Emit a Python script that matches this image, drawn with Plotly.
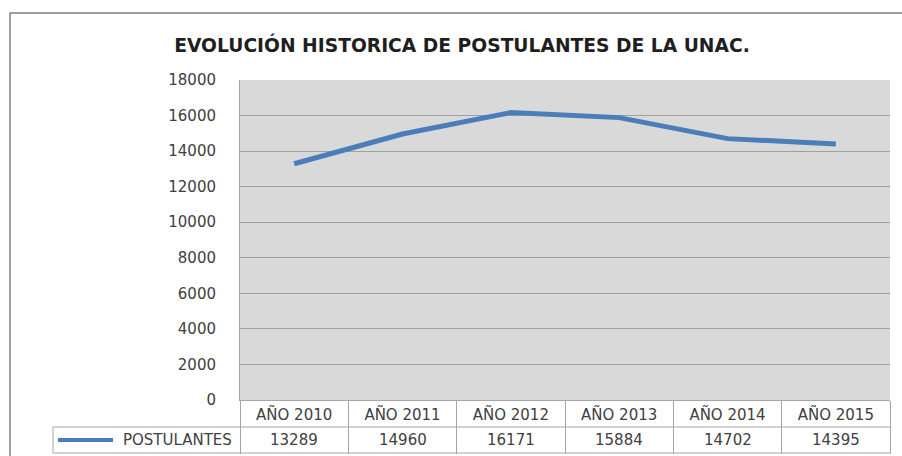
import plotly.graph_objects as go

categories = ["AÑO 2010", "AÑO 2011", "AÑO 2012", "AÑO 2013", "AÑO 2014", "AÑO 2015"]
postulantes = [13289, 14960, 16171, 15884, 14702, 14395]
series_name = "POSTULANTES"
title_text = "EVOLUCIÓN HISTORICA DE POSTULANTES DE LA UNAC."
y_ticks = [0, 2000, 4000, 6000, 8000, 10000, 12000, 14000, 16000, 18000]

W, H = 902, 456
ML, MR, MT, MB = 240, 12, 80, 56
PW, PH = W - ML - MR, H - MT - MB

def px_x(px):
    return (px - ML) / PW

def px_y(py):
    return (H - MB - py) / PH

BORDER = "#a6a6a6"
FONT = "DejaVu Sans"
TXT = "#404040"

fig = go.Figure()
fig.add_trace(go.Scatter(
    x=categories, y=postulantes, mode="lines", name=series_name,
    line=dict(color="#4a7ebb", width=5),
))
# invisible trace for table boundary ticks on overlay axis
fig.add_trace(go.Scatter(x=categories, y=postulantes, xaxis="x2", mode="none",
                         hoverinfo="skip"))

shapes = []
# outer frame
shapes.append(dict(type="rect", xref="paper", yref="paper",
                   x0=px_x(10), x1=px_x(910), y0=px_y(470), y1=px_y(13),
                   line=dict(color="#7f7f7f", width=1.5)))
# table horizontal lines
for py in (427, 453):
    shapes.append(dict(type="line", xref="paper", yref="paper",
                       x0=px_x(53), x1=px_x(890), y0=px_y(py), y1=px_y(py),
                       line=dict(color=BORDER, width=1)))
# legend cell left border
shapes.append(dict(type="line", xref="paper", yref="paper",
                   x0=px_x(53), x1=px_x(53), y0=px_y(427), y1=px_y(453),
                   line=dict(color=BORDER, width=1)))

annotations = []
for c, v in zip(categories, postulantes):
    annotations.append(dict(x=c, xref="x", y=px_y(440), yref="paper",
                            xanchor="center", yanchor="middle",
                            text=str(v), showarrow=False,
                            font=dict(family=FONT, size=15, color=TXT)))
# legend key + label
shapes.append(dict(type="line", xref="paper", yref="paper",
                   x0=px_x(58), x1=px_x(113), y0=px_y(440), y1=px_y(440),
                   line=dict(color="#4a7ebb", width=4)))
annotations.append(dict(x=px_x(234), xref="paper", y=px_y(440), yref="paper",
                        xanchor="right", yanchor="middle",
                        text=series_name, showarrow=False,
                        font=dict(family=FONT, size=15, color=TXT)))

fig.update_layout(
    width=W, height=H,
    margin=dict(l=ML, r=MR, t=MT, b=MB, autoexpand=False),
    paper_bgcolor="white", plot_bgcolor="#d9d9d9",
    showlegend=False,
    title=dict(text="<b>" + title_text + "</b>", xref="container",
               x=462 / W, xanchor="center",
               yref="container", y=1 - 45 / H, yanchor="middle",
               font=dict(family=FONT, size=18.7, color="#1f1f1f")),
    xaxis=dict(type="category", categoryarray=categories, range=[-0.5, 5.5],
               showgrid=False, showline=True, linecolor=BORDER, linewidth=1,
               ticks="", tickfont=dict(family=FONT, size=15, color=TXT),
               ticklabelstandoff=1, zeroline=False, automargin=False),
    xaxis2=dict(type="category", categoryarray=categories, range=[-0.5, 5.5],
                overlaying="x", side="bottom", showgrid=False, showline=False,
                ticks="outside", tickson="boundaries", ticklen=53,
                tickcolor=BORDER, tickwidth=1, showticklabels=False,
                automargin=False),
    yaxis=dict(range=[0, 18000], tickvals=y_ticks, tickformat="d",
               showgrid=True, gridcolor="#a0a0a0", gridwidth=1, showline=True,
               linecolor=BORDER, linewidth=1, ticks="",
               tickfont=dict(family=FONT, size=15, color=TXT),
               ticklabelstandoff=20, zeroline=False, automargin=False),
    shapes=shapes, annotations=annotations,
)

fig.write_html("out.html", config={"displayModeBar": False},
               post_script="document.body.style.margin='0';")
